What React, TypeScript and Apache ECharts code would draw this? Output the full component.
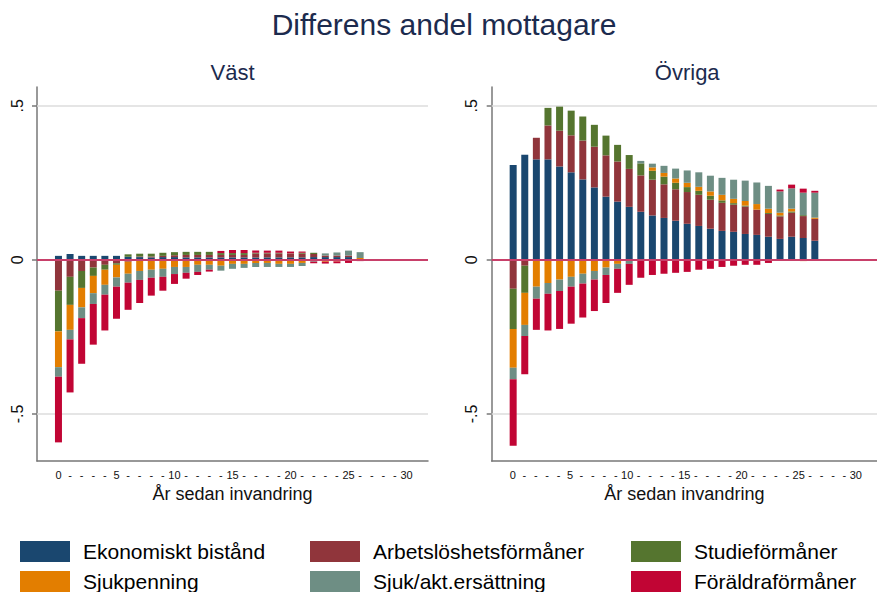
import React, { useEffect, useRef } from "react";
import * as echarts from "echarts";

// ---- data ----
const years = [0, 1, 2, 3, 4, 5, 6, 7, 8, 9, 10, 11, 12, 13, 14, 15, 16, 17, 18, 19, 20, 21, 22, 23, 24, 25, 26];
const xTickValues = [0, 1, 2, 3, 4, 5, 6, 7, 8, 9, 10, 11, 12, 13, 14, 15, 16, 17, 18, 19, 20, 21, 22, 23, 24, 25, 26, 27, 28, 29, 30];
const yTickValues = [-0.5, 0, 0.5];
const seriesNames = ["Ekonomiskt bistånd", "Arbetslöshetsförmåner", "Studieförmåner", "Sjukpenning", "Sjuk/akt.ersättning", "Föräldraförmåner"];
const panelTitles = ["Väst", "Övriga"];
const mainTitle = "Differens andel mottagare";
const xAxisTitle = "År sedan invandring";

// Väst
const vastEkonomiskt = [0.013, 0.019, 0.013, 0.013, 0.013, 0.013, 0.010, 0.009, 0.008, 0.009, 0.009, 0.008, 0.008, 0.008, 0.008, 0.008, 0.008, 0.008, 0.008, 0.008, 0.008, 0.008, 0.009, 0.009, 0.009, 0.009, 0];
const vastArbetsloshet = [-0.100, -0.055, -0.036, -0.025, -0.016, -0.011, -0.006, 0.002, 0.003, 0.004, 0.006, 0.008, 0.008, 0.008, 0.008, 0.008, 0.008, 0.013, 0.013, 0.013, 0.012, 0.012, 0.010, 0.005, 0.005, 0.005, 0];
const vastStudie = [-0.132, -0.091, -0.055, -0.027, -0.016, -0.005, 0.008, 0.009, 0.009, 0.010, 0.010, 0.010, 0.010, 0.010, 0.006, 0.006, 0.006, 0.002, 0.002, 0.002, 0.001, 0.003, 0.004, 0, 0, 0, 0];
const vastSjukpenning = [-0.116, -0.081, -0.063, -0.056, -0.049, -0.041, -0.039, -0.036, -0.032, -0.029, -0.023, -0.023, -0.016, -0.016, -0.019, -0.013, -0.013, -0.010, -0.010, -0.013, -0.013, -0.010, 0, -0.006, -0.005, 0, 0.006];
const vastSjukAkt = [-0.031, -0.031, -0.035, -0.035, -0.032, -0.030, -0.029, -0.029, -0.026, -0.026, -0.023, -0.019, -0.023, -0.016, -0.016, -0.016, -0.013, -0.013, -0.013, -0.010, -0.010, -0.010, -0.006, 0.007, 0.010, 0.016, 0.019];
const vastForaldra = [-0.213, -0.172, -0.148, -0.132, -0.116, -0.104, -0.088, -0.075, -0.058, -0.045, -0.032, -0.019, -0.010, -0.006, 0.007, 0.010, 0.010, 0.007, 0.007, 0.007, 0.006, 0.004, -0.005, -0.006, -0.006, -0.010, -0.004];

// Övriga
const ovrEkonomiskt = [0.308, 0.341, 0.326, 0.326, 0.303, 0.284, 0.261, 0.235, 0.205, 0.189, 0.172, 0.156, 0.144, 0.136, 0.127, 0.117, 0.110, 0.101, 0.094, 0.091, 0.084, 0.081, 0.075, 0.068, 0.075, 0.071, 0.062];
const ovrArbetsloshet = [-0.094, -0.019, 0.070, 0.110, 0.116, 0.120, 0.126, 0.132, 0.134, 0.130, 0.123, 0.118, 0.116, 0.109, 0.102, 0.103, 0.101, 0.094, 0.091, 0.088, 0.089, 0.082, 0.074, 0.073, 0.078, 0.071, 0.071];
const ovrStudie = [-0.130, -0.088, -0.003, 0.057, 0.078, 0.080, 0.078, 0.071, 0.064, 0.054, 0.045, 0.039, 0.029, 0.025, 0.021, 0.016, 0.013, 0.013, 0.008, 0.005, 0.003, 0, 0.003, 0.003, 0.004, 0.003, 0];
const ovrSjukpenning = [-0.126, -0.104, -0.084, -0.075, -0.064, -0.055, -0.045, -0.036, -0.025, -0.013, -0.003, 0, 0.011, 0.012, 0.014, 0.014, 0.013, 0.014, 0.018, 0.014, 0.015, 0.018, 0.014, 0.009, 0.009, -0.004, 0.004];
const ovrSjukAkt = [-0.037, -0.036, -0.039, -0.035, -0.037, -0.032, -0.032, -0.028, -0.024, -0.016, -0.010, 0.008, 0.012, 0.023, 0.032, 0.040, 0.047, 0.051, 0.055, 0.062, 0.066, 0.070, 0.074, 0.069, 0.066, 0.073, 0.081];
const ovrForaldra = [-0.216, -0.124, -0.101, -0.119, -0.123, -0.120, -0.110, -0.102, -0.091, -0.078, -0.068, -0.058, -0.049, -0.045, -0.042, -0.039, -0.032, -0.029, -0.023, -0.019, -0.016, -0.016, -0.010, 0.006, 0.012, 0.013, 0.006];

const panels = [
  [vastEkonomiskt, vastArbetsloshet, vastStudie, vastSjukpenning, vastSjukAkt, vastForaldra],
  [ovrEkonomiskt, ovrArbetsloshet, ovrStudie, ovrSjukpenning, ovrSjukAkt, ovrForaldra],
];

// ---- styles / layout ----
const COLORS = ["#1a476f", "#90353b", "#55752f", "#e37e00", "#6e8e84", "#c10534"];
const FONT = "'Liberation Sans', Arial, Helvetica, sans-serif";
const X_MIN = -1.85;
const X_MAX = 31.85;
const Y_MIN = -0.6524;
const Y_MAX = 0.5607;
const GRID_LEFTS = [37, 491.7];
const GRID_TOP = 87;
const GRID_W = 391;
const GRID_H = 374;
const UNIT = GRID_W / (X_MAX - X_MIN); // px per year
const AXIS_COLOR = "#777777";
const ZERO_COLOR = "#c8406a";

function buildOption() {
  // display grids (0,1) carry the visible value axes; bar grids (2,3) carry hidden category axes aligned to them
  const dispGrids = GRID_LEFTS.map((l) => ({ left: l, top: GRID_TOP, width: GRID_W, height: GRID_H }));
  const barGrids = GRID_LEFTS.map((l) => ({
    left: l + (years[0] - X_MIN) * UNIT - UNIT / 2,
    top: GRID_TOP,
    width: years.length * UNIT,
    height: GRID_H,
  }));

  const dispX = GRID_LEFTS.map((_, p) => ({
    type: "value",
    gridIndex: p,
    min: X_MIN,
    max: X_MAX,
    splitLine: { show: false },
    axisLine: { show: true, onZero: false, lineStyle: { color: AXIS_COLOR, width: 1.5 } },
    axisTick: { show: false },
    axisLabel: {
      customValues: xTickValues,
      formatter: (v: number) => (Math.round(v) % 5 === 0 ? String(Math.round(v)) : "-"),
      fontSize: 11,
      margin: 8,
      color: "#111",
      fontFamily: FONT,
    },
    name: xAxisTitle,
    nameLocation: "middle",
    nameGap: 24,
    nameTextStyle: { fontSize: 18, color: "#111", fontFamily: FONT },
  }));
  const dispY = GRID_LEFTS.map((_, p) => ({
    type: "value",
    gridIndex: p,
    min: Y_MIN,
    max: Y_MAX,
    splitLine: { show: false },
    axisLine: { show: true, onZero: false, lineStyle: { color: AXIS_COLOR, width: 1.5 } },
    axisTick: { show: true, length: 5, customValues: yTickValues, lineStyle: { color: AXIS_COLOR, width: 1.5 } },
    axisLabel: {
      customValues: yTickValues,
      rotate: 90,
      formatter: (v: number) => (v === 0 ? "0" : v > 0 ? ".5" : "-.5"),
      fontSize: 16,
      margin: 12,
      color: "#111",
      fontFamily: FONT,
    },
  }));
  const barX = GRID_LEFTS.map((_, p) => ({
    type: "category",
    gridIndex: 2 + p,
    data: years.map(String),
    boundaryGap: true,
    show: false,
  }));
  const barY = GRID_LEFTS.map((_, p) => ({
    type: "value",
    gridIndex: 2 + p,
    min: Y_MIN,
    max: Y_MAX,
    show: false,
    splitLine: { show: false },
  }));

  const series: any[] = [];
  panels.forEach((vals, p) => {
    // reference lines drawn in the display grid
    series.push({
      type: "line",
      name: "grid" + p,
      xAxisIndex: p,
      yAxisIndex: p,
      data: [],
      silent: true,
      markLine: {
        silent: true,
        symbol: "none",
        z: 1,
        label: { show: false },
        lineStyle: { color: "#dddddd", width: 1.5, type: "solid" },
        data: [{ yAxis: 0.5 }, { yAxis: -0.5 }],
      },
    });
    vals.forEach((arr, s) => {
      series.push({
        type: "bar",
        name: seriesNames[s],
        xAxisIndex: 2 + p,
        yAxisIndex: 2 + p,
        stack: "panel" + p,
        stackStrategy: "samesign",
        barWidth: 7,
        data: arr,
        itemStyle: { color: COLORS[s] },
        emphasis: { disabled: true },
        silent: true,
      });
    });
    series.push({
      type: "line",
      name: "zero" + p,
      xAxisIndex: p,
      yAxisIndex: p,
      data: [],
      silent: true,
      z: 10,
      markLine: {
        silent: true,
        symbol: "none",
        z: 10,
        label: { show: false },
        lineStyle: { color: ZERO_COLOR, width: 2, type: "solid" },
        data: [{ yAxis: 0 }],
      },
    });
  });

  const legendCol = (names: string[], left: number) => ({
    data: names,
    left,
    top: 541,
    orient: "vertical",
    padding: 0,
    itemWidth: 50,
    itemHeight: 21,
    itemGap: 9,
    icon: "rect",
    selectedMode: false,
    textStyle: { fontSize: 21, color: "#000", fontFamily: FONT, padding: [0, 0, 0, 8] },
  });

  return {
    animation: false,
    textStyle: { fontFamily: FONT },
    grid: [...dispGrids, ...barGrids],
    xAxis: [...dispX, ...barX],
    yAxis: [...dispY, ...barY],
    series,
    legend: [
      legendCol([seriesNames[0], seriesNames[3]], 20),
      legendCol([seriesNames[1], seriesNames[4]], 310),
      legendCol([seriesNames[2], seriesNames[5]], 631),
    ],
    graphic: [
      {
        type: "text",
        x: 444,
        y: 24,
        silent: true,
        style: { text: mainTitle, align: "center", verticalAlign: "middle", fontSize: 30, fill: "#1c2b4e", fontFamily: FONT },
      },
      ...GRID_LEFTS.map((l, p) => ({
        type: "text",
        x: l + GRID_W / 2,
        y: 72,
        silent: true,
        style: { text: panelTitles[p], align: "center", verticalAlign: "middle", fontSize: 22, fill: "#1c2b4e", fontFamily: FONT },
      })),
    ],
  };
}

export default function App() {
  const ref = useRef<HTMLDivElement>(null);
  useEffect(() => {
    if (!ref.current) return;
    const chart = echarts.init(ref.current, undefined, { renderer: "svg" });
    chart.setOption(buildOption() as any);
    return () => chart.dispose();
  }, []);
  return <div ref={ref} style={{ position: "absolute", left: 0, top: 0, width: 877, height: 592, background: "#fff" }} />;
}
